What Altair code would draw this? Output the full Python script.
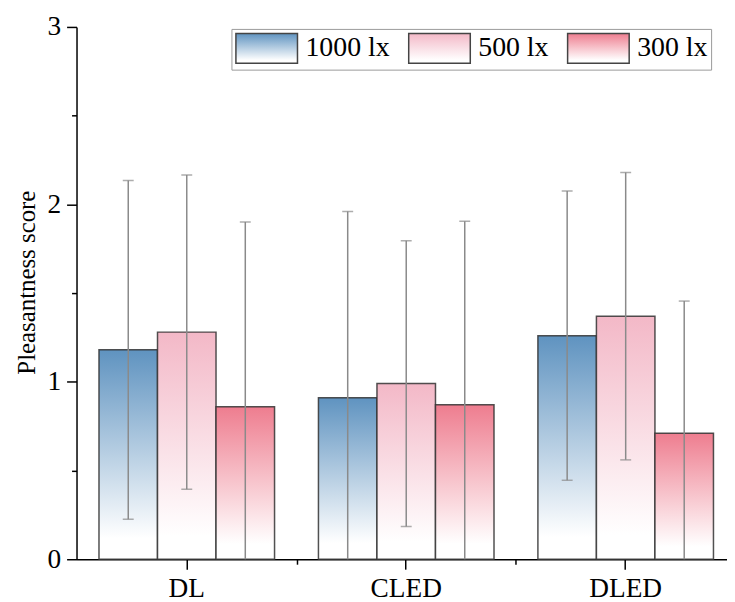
import altair as alt
import pandas as pd

groups = ["DL", "CLED", "DLED"]
series = ["1000 lx", "500 lx", "300 lx"]

mean_1000 = [1.18, 0.91, 1.26]
mean_500 = [1.28, 0.99, 1.37]
mean_300 = [0.86, 0.87, 0.71]

sd_1000 = [0.955, 1.05, 0.815]
sd_500 = [0.885, 0.805, 0.81]
sd_300 = [1.04, 1.035, 0.745]

top_colors = ["#5f93c0", "#f3b8c7", "#ee7d8f"]
y_ticks = [0, 0.5, 1, 1.5, 2, 2.5, 3]

means = [mean_1000, mean_500, mean_300]
sds = [sd_1000, sd_500, sd_300]
rows = []
for gi, g in enumerate(groups):
    for si, s in enumerate(series):
        m = means[si][gi]
        d = sds[si][gi]
        rows.append({"group": g, "series": s, "mean": m, "lo": m - d, "hi": m + d})
df = pd.DataFrame(rows)


def grad(c):
    return alt.ExprRef(
        expr="{gradient: 'linear', x1: 0, y1: 0, x2: 0, y2: 1, stops: ["
        f"{{offset: 0, color: '{c}'}}, {{offset: 0.9, color: '#ffffff'}}, {{offset: 1, color: '#ffffff'}}]}}"
    )


FONT = "Liberation Serif"
x_scale = alt.Scale(paddingInner=0.2, paddingOuter=0.082, align=0.624)

main_x_axis = alt.Axis(
    title=None,
    orient="bottom",
    labelAngle=0,
    labelFont=FONT,
    labelFontSize=27.5,
    labelColor="black",
    labelPadding=6,
    tickSize=10,
    tickWidth=1.5,
    tickColor="black",
    domainColor="black",
    domainWidth=1.5,
    grid=False,
)
minor_x_axis = alt.Axis(
    title=None,
    orient="bottom",
    labels=False,
    domain=False,
    tickSize=5,
    tickWidth=1.5,
    tickColor="black",
    tickOffset=110.5,
    grid=False,
)

x_off = alt.XOffset(
    "series:N", sort=series, scale=alt.Scale(domain=series, paddingInner=0, paddingOuter=0)
)

bars = alt.Chart(df).mark_bar(stroke="#333333", strokeWidth=1.5, strokeOpacity=0.85).encode(
    x=alt.X("group:N", sort=groups, scale=x_scale, axis=main_x_axis),
    xOffset=x_off,
    y=alt.Y(
        "mean:Q",
        scale=alt.Scale(domain=[0, 3], nice=False, zero=True),
        axis=alt.Axis(
            title="Pleasantness score",
            titleFont=FONT,
            titleFontSize=25,
            titleFontWeight="normal",
            titleColor="black",
            titlePadding=8,
            titleY=257,
            values=y_ticks,
            labelExpr="datum.value % 1 == 0 ? format(datum.value, 'd') : ''",
            labelFont=FONT,
            labelFontSize=27.5,
            labelColor="black",
            labelPadding=6,
            tickSize={"condition": {"test": "datum.value % 1 != 0", "value": 5}, "value": 10},
            tickWidth=1.5,
            tickColor="black",
            domainColor="black",
            domainWidth=1.5,
            grid=False,
        ),
    ),
    fill=alt.Fill(
        "series:N",
        sort=series,
        scale=alt.Scale(domain=series, range=[grad(c) for c in top_colors]),
        legend=alt.Legend(
            title=None,
            orient="none",
            legendX=156,
            legendY=2,
            direction="horizontal",
            symbolType="M-1,-1H3.133V1H-1Z",
            symbolSize=900,
            symbolStrokeColor="#444444",
            symbolStrokeWidth=1.5,
            labelFont=FONT,
            labelFontSize=28,
            labelColor="black",
            labelOffset=39,
            labelLimit=300,
            columnPadding=16,
            padding=3.5,
            fillColor="white",
            strokeColor="#9a9a9a",
        ),
    ),
)

err_color = "#8a8a8a"
rules = alt.Chart(df).mark_rule(color=err_color, strokeWidth=1.5, clip=True).encode(
    x=alt.X("group:N", sort=groups, scale=x_scale, axis=minor_x_axis),
    xOffset=x_off,
    y="lo:Q",
    y2="hi:Q",
)
cap_hi = alt.Chart(df).mark_tick(color=err_color, size=11, thickness=1.5, clip=True).encode(
    x=alt.X("group:N", sort=groups, scale=x_scale, axis=None),
    xOffset=x_off,
    y="hi:Q",
)
cap_lo = alt.Chart(df).mark_tick(color=err_color, size=11, thickness=1.5, clip=True).encode(
    x=alt.X("group:N", sort=groups, scale=x_scale, axis=None),
    xOffset=x_off,
    y="lo:Q",
)

chart = (
    alt.layer(bars, rules, cap_hi, cap_lo)
    .resolve_axis(x="independent")
    .properties(
        width=655,
        height=536,
        autosize=alt.AutoSizeParams(type="none"),
        padding={"left": 69, "top": 17, "right": 0, "bottom": 42},
        background="white",
    )
    .configure_view(stroke=None)
)

chart.save("out.html", embed_options={"renderer": "svg", "actions": False})
